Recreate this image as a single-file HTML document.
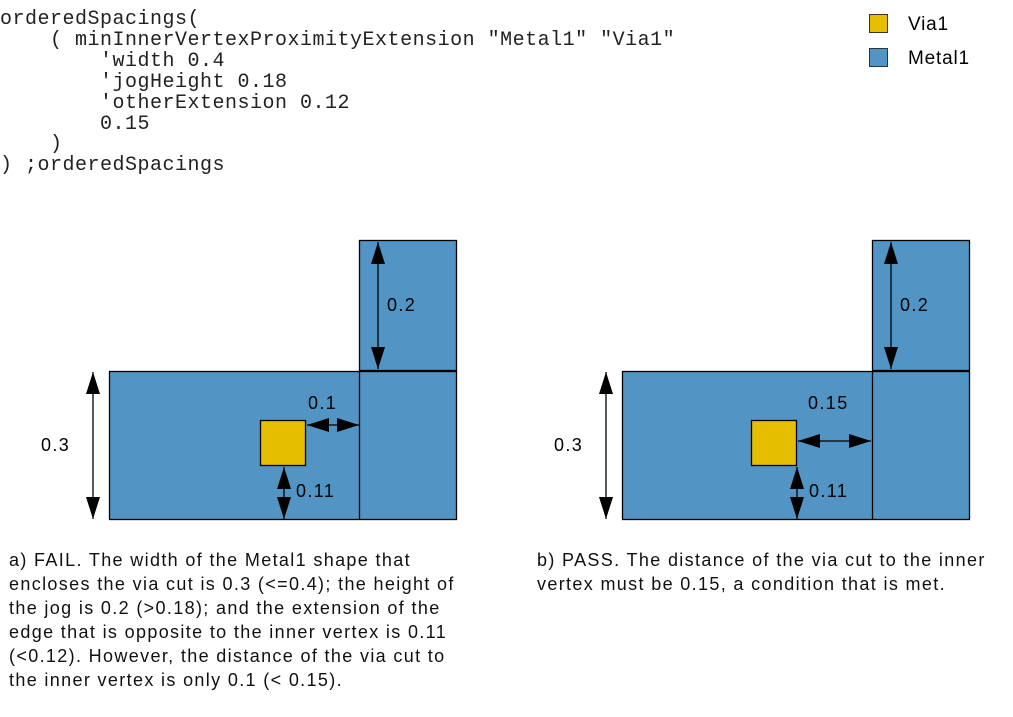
<!DOCTYPE html>
<html><head><meta charset="utf-8"><style>
body{margin:0;background:#fff;width:1013px;height:717px;overflow:hidden;position:relative}
pre{position:absolute;left:0;top:10px;margin:0;font:20px/20.9px "Liberation Mono",monospace;color:#222;letter-spacing:0.5px}
.cap{position:absolute;font:18px/24px "Liberation Sans",sans-serif;color:#111;letter-spacing:1.35px;white-space:nowrap}
</style></head><body>
<pre>orderedSpacings(
    ( minInnerVertexProximityExtension "Metal1" "Via1"
        'width 0.4
        'jogHeight 0.18
        'otherExtension 0.12
        0.15
    )
) ;orderedSpacings</pre>
<svg width="1013" height="717" style="position:absolute;left:0;top:0" font-family="Liberation Sans, sans-serif" font-size="18" letter-spacing="1.4">
<defs>
<marker id="a" viewBox="0 0 22 14" refX="22" refY="7" markerWidth="22" markerHeight="14" markerUnits="userSpaceOnUse" orient="auto-start-reverse"><path d="M0,0 L22,7 L0,14 Z" fill="#000"/></marker>
</defs>
<rect x="869.5" y="14.5" width="18" height="18" fill="#e6be00" stroke="#333"/>
<rect x="869.5" y="48.5" width="18" height="18" fill="#5294c4" stroke="#333"/>
<text x="908" y="30" font-size="19" letter-spacing="0.8">Via1</text>
<text x="908" y="64" font-size="19" letter-spacing="0.8">Metal1</text>
<g stroke="#000" stroke-width="1.3">
<rect x="359.5" y="240.5" width="97" height="130" fill="#5294c4"/>
<rect x="109.5" y="371.5" width="347" height="148" fill="#5294c4"/>
<line x1="359.5" y1="371" x2="359.5" y2="520"/>
<rect x="260.5" y="420.5" width="45" height="45" fill="#e6be00"/>
<line x1="93" y1="372" x2="93" y2="519" marker-start="url(#a)" marker-end="url(#a)"/>
<line x1="378" y1="242" x2="378" y2="369" marker-start="url(#a)" marker-end="url(#a)"/>
<line x1="307" y1="425" x2="359" y2="425" marker-start="url(#a)" marker-end="url(#a)"/>
<line x1="284" y1="467" x2="284" y2="519" marker-start="url(#a)" marker-end="url(#a)"/>
<rect x="872.5" y="240.5" width="97" height="130" fill="#5294c4"/>
<rect x="622.5" y="371.5" width="347" height="148" fill="#5294c4"/>
<line x1="872.5" y1="371" x2="872.5" y2="520"/>
<rect x="751.5" y="420.5" width="45" height="45" fill="#e6be00"/>
<line x1="606" y1="372" x2="606" y2="519" marker-start="url(#a)" marker-end="url(#a)"/>
<line x1="891" y1="242" x2="891" y2="369" marker-start="url(#a)" marker-end="url(#a)"/>
<line x1="798" y1="441" x2="871" y2="441" marker-start="url(#a)" marker-end="url(#a)"/>
<line x1="797" y1="467" x2="797" y2="519" marker-start="url(#a)" marker-end="url(#a)"/>
</g>
<text x="41" y="451">0.3</text>
<text x="387" y="311">0.2</text>
<text x="308" y="409">0.1</text>
<text x="296" y="497">0.11</text>
<text x="554" y="451">0.3</text>
<text x="900" y="311">0.2</text>
<text x="808" y="409">0.15</text>
<text x="809" y="497">0.11</text>
</svg>
<div class="cap" style="left:9px;top:548px">a) FAIL. The width of the Metal1 shape that<br>encloses the via cut is 0.3 (&lt;=0.4); the height of<br>the jog is 0.2 (&gt;0.18); and the extension of the<br>edge that is opposite to the inner vertex is 0.11<br>(&lt;0.12). However, the distance of the via cut to<br>the inner vertex is only 0.1 (&lt; 0.15).</div>
<div class="cap" style="left:537px;top:548px">b) PASS. The distance of the via cut to the inner<br>vertex must be 0.15, a condition that is met.</div>
</body></html>
